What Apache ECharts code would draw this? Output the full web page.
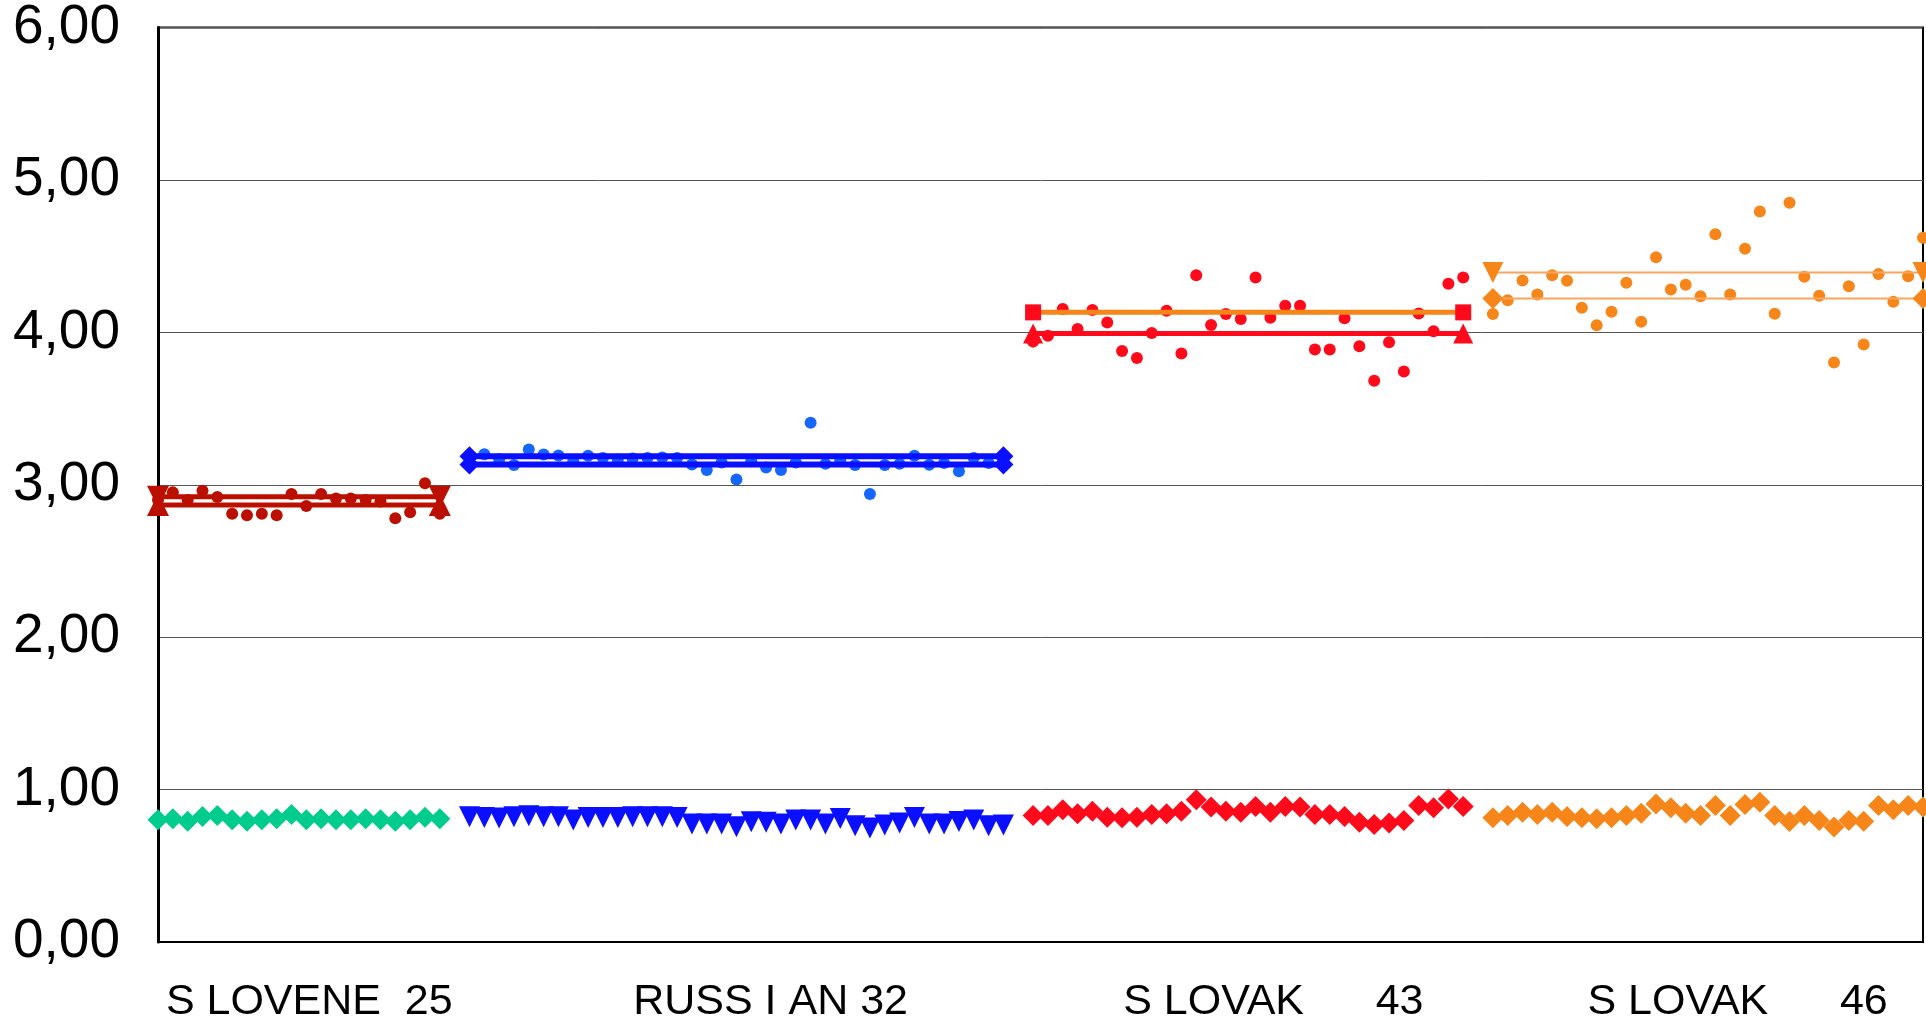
<!DOCTYPE html>
<html>
<head>
<meta charset="utf-8">
<title>Scores by group</title>
<script src="https://cdn.jsdelivr.net/npm/echarts@6/dist/echarts.min.js"></script>
<style>
  html, body { margin: 0; padding: 0; background: #fff; }
  #chart { width: 1926px; height: 1025px; }
</style>
</head>
<body>
<div id="chart"></div>
<script>
// x axis: category names, first slot of each group, slots where the names sit
const categories = ['S LOVENE  25', 'RUSS I AN 32', 'S LOVAK      43', 'S LOVAK      46'];
const groupStart = [0, 21, 59, 90];
const categoryTicks = [10.2, 41.3, 75.2, 106.5];
const xMax = 119;

// y axis ticks
const yMin = 0, yMax = 6, yStep = 1;

// lower band (one marker per slot)
const slovene25Low = [0.802, 0.808, 0.793, 0.824, 0.830, 0.802, 0.793, 0.802, 0.808, 0.837,
  0.802, 0.808, 0.802, 0.802, 0.808, 0.802, 0.793, 0.802, 0.819, 0.808];
const russian32Low = [0.822, 0.817, 0.813, 0.822, 0.828, 0.822, 0.822, 0.800, 0.817, 0.817,
  0.817, 0.822, 0.822, 0.822, 0.817, 0.774, 0.774, 0.774, 0.756, 0.789, 0.785, 0.774, 0.800,
  0.800, 0.774, 0.811, 0.763, 0.748, 0.767, 0.780, 0.817, 0.774, 0.774, 0.791, 0.800, 0.763, 0.767];
const slovak43Low = [0.830, 0.830, 0.867, 0.841, 0.858, 0.819, 0.815, 0.819, 0.837, 0.841,
  0.858, 0.933, 0.885, 0.858, 0.852, 0.889, 0.852, 0.889, 0.885, 0.837, 0.837, 0.824, 0.786,
  0.771, 0.780, 0.797, 0.895, 0.880, 0.939, 0.889];
const slovak46Low = [0.815, 0.830, 0.852, 0.837, 0.852, 0.823, 0.815, 0.809, 0.815, 0.830,
  0.845, 0.906, 0.880, 0.845, 0.830, 0.895, 0.830, 0.902, 0.917, 0.830, 0.791, 0.830, 0.797,
  0.754, 0.797, 0.793, 0.895, 0.867, 0.895, 0.885];

// upper dots
const slovene25Dots = [2.90, 2.95, 2.90, 2.96, 2.92, 2.81, 2.80, 2.81, 2.80, 2.94,
  2.86, 2.94, 2.91, 2.91, 2.90, 2.89, 2.78, 2.82, 3.01, 2.81];
const russian32Dots = [3.183, 3.200, 3.168, 3.129, 3.231, 3.198, 3.192, 3.157, 3.190, 3.176,
  3.166, 3.172, 3.176, 3.179, 3.176, 3.133, 3.096, 3.146, 3.035, 3.155, 3.113, 3.096, 3.146,
  3.407, 3.137, 3.161, 3.129, 2.939, 3.129, 3.137, 3.190, 3.131, 3.142, 3.089, 3.176, 3.142, 3.155];
const slovak43Dots = [3.939, 3.978, 4.153, 4.022, 4.146, 4.065, 3.878, 3.832, 3.996, 4.142,
  3.861, 4.375, 4.048, 4.120, 4.087, 4.359, 4.096, 4.174, 4.174, 3.887, 3.887, 4.092, 3.908,
  3.682, 3.935, 3.743, 4.124, 4.007, 4.318, 4.359];
const slovak46Dots = [4.120, 4.211, 4.340, 4.248, 4.375, 4.338, 4.161, 4.046, 4.135, 4.325,
  4.070, 4.492, 4.281, 4.312, 4.237, 4.643, 4.248, 4.549, 4.793, 4.122, 4.850, 4.364, 4.240,
  3.802, 4.303, 3.920, 4.383, 4.201, 4.368, 4.621];

// two level lines per group
const slovene25Lines = [2.922, 2.867];
const russian32Lines = [3.187, 3.133];
const slovak43Lines = [4.131, 3.993];
const slovak46Lines = [4.392, 4.222];

const lows = [slovene25Low, russian32Low, slovak43Low, slovak46Low];
const dots = [slovene25Dots, russian32Dots, slovak43Dots, slovak46Dots];
const levels = [slovene25Lines, russian32Lines, slovak43Lines, slovak46Lines];

// look of each group
const looks = [
  { low: { symbol: 'diamond', rotate: 0, size: 21, color: '#00cc8e' },
    dot: '#bb1000',
    lines: [
      { color: '#bb1000', width: 5, symbol: 'triangle', rotate: 180, size: 22, mark: '#bb1000' },
      { color: '#bb1000', width: 5, symbol: 'triangle', rotate: 0, size: 22, mark: '#bb1000' }
    ] },
  { low: { symbol: 'triangle', rotate: 180, size: 21, color: '#0a0fff' },
    dot: '#1566ff',
    lines: [
      { color: '#0a0fff', width: 6, symbol: 'diamond', rotate: 0, size: 20, mark: '#0a0fff' },
      { color: '#0a0fff', width: 6, symbol: 'diamond', rotate: 0, size: 20, mark: '#0a0fff' }
    ] },
  { low: { symbol: 'diamond', rotate: 0, size: 21, color: '#ff0a1a' },
    dot: '#ff0a1a',
    lines: [
      { color: '#f7861a', width: 5, symbol: 'rect', rotate: 0, size: 16, mark: '#ff0a1a' },
      { color: '#ff0a1a', width: 5, symbol: 'triangle', rotate: 0, size: 20, mark: '#ff0a1a' }
    ] },
  { low: { symbol: 'diamond', rotate: 0, size: 21, color: '#f7861a' },
    dot: '#f7861a',
    lines: [
      { color: '#f9a55e', width: 2, symbol: 'triangle', rotate: 180, size: 21, mark: '#f7861a' },
      { color: '#f9a55e', width: 2, symbol: 'diamond', rotate: 0, size: 21, mark: '#f7861a' }
    ] }
];

const series = [];

lows.forEach((arr, g) => {
  const lk = looks[g].low;
  series.push({
    type: 'scatter',
    clip: false,
    symbol: lk.symbol,
    symbolRotate: lk.rotate,
    symbolSize: lk.size,
    itemStyle: { color: lk.color, opacity: 1 },
    data: arr.map((v, i) => [groupStart[g] + i, v])
  });
});

levels.forEach((arr, g) => {
  const first = groupStart[g];
  const last = groupStart[g] + dots[g].length - 1;
  arr.forEach((v, k) => {
    const lk = looks[g].lines[k];
    series.push({
      type: 'line',
      clip: false,
      symbol: lk.symbol,
      symbolRotate: lk.rotate,
      symbolSize: lk.size,
      showAllSymbol: true,
      itemStyle: { color: lk.mark, opacity: 1 },
      lineStyle: { color: lk.color, width: lk.width },
      data: [[first, v], [last, v]]
    });
  });
});

dots.forEach((arr, g) => {
  series.push({
    type: 'scatter',
    clip: false,
    symbol: 'circle',
    symbolSize: 12,
    itemStyle: { color: looks[g].dot, opacity: 1 },
    data: arr.map((v, i) => [groupStart[g] + i, v])
  });
});

const chart = echarts.init(document.getElementById('chart'));
chart.setOption({
  animation: false,
  backgroundColor: '#fff',
  textStyle: { fontFamily: 'Liberation Sans, Arial, sans-serif' },
  grid: {
    left: 158, right: 3, top: 24, bottom: 83,
    show: true, borderColor: '#000', borderWidth: 2
  },
  xAxis: {
    type: 'value',
    min: 0,
    max: xMax,
    splitLine: { show: false },
    axisTick: { show: false },
    axisLine: { show: true, lineStyle: { color: '#000', width: 2 } },
    axisLabel: {
      customValues: categoryTicks,
      color: '#000',
      fontSize: 43,
      margin: 39,
      formatter: (v) => {
        const i = categoryTicks.findIndex(t => Math.abs(t - v) < 1e-6);
        return i >= 0 ? categories[i] : '';
      }
    }
  },
  yAxis: {
    type: 'value',
    min: yMin,
    max: yMax,
    interval: yStep,
    axisLine: { show: true, lineStyle: { color: '#000', width: 3 } },
    axisTick: { show: false },
    splitLine: { lineStyle: { color: '#555', width: 1 } },
    axisLabel: {
      color: '#000',
      fontSize: 55,
      margin: 38,
      padding: [18, 0, 0, 0],
      formatter: (v) => v.toFixed(2).replace('.', ',')
    }
  },
  series: series
});
</script>
</body>
</html>
